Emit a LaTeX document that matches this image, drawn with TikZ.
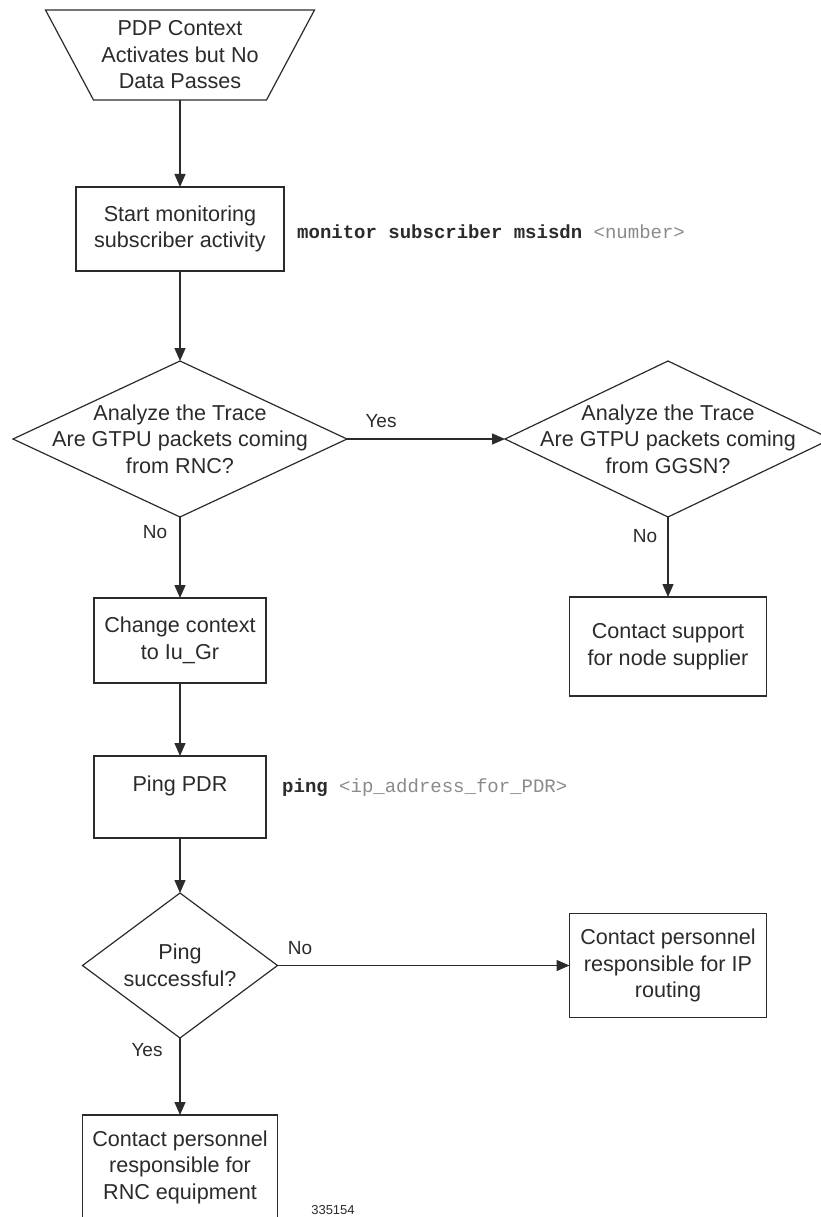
\documentclass[tikz,border=0pt]{standalone}
\usepackage{fontspec}
\setmainfont{Liberation Sans}
\setmonofont{Liberation Mono}
\usetikzlibrary{arrows.meta,shapes.geometric}
\definecolor{ink}{HTML}{2B2B2B}
\definecolor{cmdgray}{HTML}{8A8A8A}
\begin{document}
\begin{tikzpicture}[x=1pt,y=-1pt,
  every node/.style={text=ink},
  lbl/.style={font=\fontsize{21.6}{26.5}\selectfont, align=center, inner sep=0pt},
  pbox/.style={draw=ink, line width=1.4pt, lbl, outer sep=0pt},
  dia/.style={draw=ink, line width=1.2pt, diamond, inner sep=0pt, outer sep=0pt},
  conn/.style={draw=ink, line width=1.4pt, -{Triangle[length=13pt,width=11pt]}},
  cmd/.style={font=\fontsize{19}{22}\selectfont\ttfamily, anchor=west, inner sep=0pt},
  yn/.style={font=\fontsize{19}{22}\selectfont, inner sep=0pt}
]
\useasboundingbox (0,0) rectangle (820,1217);

% start trapezoid
\node[lbl, minimum width=269, minimum height=90, outer sep=0pt] (start) at (180,55)
  {PDP Context\\Activates but No\\Data Passes};
\draw[draw=ink, line width=1.2pt] (start.north west) -- (start.north east)
  -- ([xshift=-48]start.south east) -- ([xshift=48]start.south west) -- cycle;

% boxes
\node[pbox, minimum width=208, minimum height=84] (b1) at (180,229)
  {Start monitoring\\subscriber activity};
\node[cmd] (c1) at (297,232)
  {\bfseries monitor subscriber msisdn \mdseries\textcolor{cmdgray}{<number>}};

\node[dia, minimum width=334, minimum height=156] (d1) at (180,439) {};
\node[lbl] (t1) at (d1) {Analyze the Trace\\Are GTPU packets coming\\from RNC?};

\node[dia, minimum width=326, minimum height=156] (d2) at (668,439) {};
\node[lbl] (t2) at (d2) {Analyze the Trace\\Are GTPU packets coming\\from GGSN?};

\node[pbox, minimum width=172, minimum height=85] (b2) at (180,640.5)
  {Change context\\to Iu\_Gr};
\node[pbox, minimum width=197, minimum height=99] (b3) at (668,646.5)
  {Contact support\\for node supplier};

\node[pbox, minimum width=172, minimum height=82] (b4) at (180,797)
  {Ping PDR\\\mbox{}};
\node[cmd] (c2) at (282,788)
  {\bfseries ping \mdseries\textcolor{cmdgray}{<ip\_address\_for\_PDR>}};

\node[dia, minimum width=195, minimum height=145] (d3) at (180,965.5) {};
\node[lbl] (t3) at (d3) {Ping\\successful?};

\node[pbox, minimum width=197, minimum height=104] (b5) at (668,965.5)
  {Contact personnel\\responsible for IP\\routing};
\node[pbox, minimum width=195, minimum height=104] (b6) at (180,1167)
  {Contact personnel\\responsible for\\RNC equipment};

\node[font=\fontsize{13}{15}\selectfont, inner sep=0pt] (fig) at (333,1210) {335154};

% connectors
\draw[conn] (start.south) -- (b1.north);
\draw[conn] (b1.south) -- (d1.north);
\draw[conn] (d1.east) -- (d2.west);
\draw[conn] (d1.south) -- (b2.north);
\draw[conn] (d2.south) -- (b3.north);
\draw[conn] (b2.south) -- (b4.north);
\draw[conn] (b4.south) -- (d3.north);
\draw[conn] (d3.east) -- (b5.west);
\draw[conn] (d3.south) -- (b6.north);

% labels
\node[yn] (y1) at (381,421) {Yes};
\node[yn] (n1) at (155,532) {No};
\node[yn] (n2) at (645,536) {No};
\node[yn] (n3) at (300,948) {No};
\node[yn] (y3) at (147,1050) {Yes};
\end{tikzpicture}
\end{document}
